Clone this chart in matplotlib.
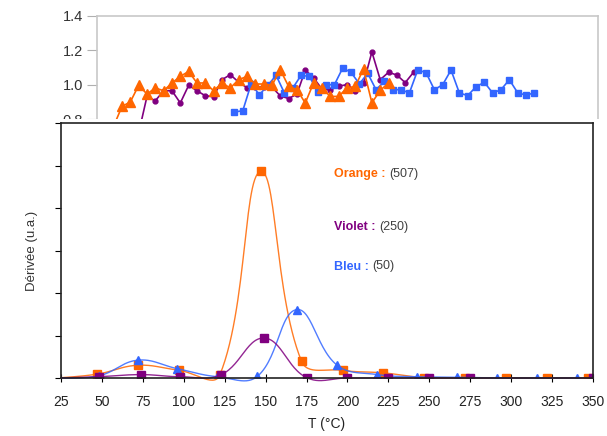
import numpy as np
import matplotlib.pyplot as plt
from matplotlib.patches import Rectangle

plt.rcParams['font.family'] = ['Liberation Sans', 'DejaVu Sans']

# --- top (background) chart: values per step index ---
top_orange_start = 2
top_orange = [0.76, 0.874, 0.900, 0.996, 0.946, 0.981, 0.965, 1.010, 1.048, 1.077,
              1.010, 1.010, 0.965, 1.010, 0.981, 1.029, 1.048, 1.004, 1.004, 0.996,
              1.087, 0.990, 0.971, 0.894, 1.010, 0.981, 0.932, 0.932, 0.981, 0.990,
              1.092, 0.895, 0.967, 1.010]
top_violet_start = 5
top_violet = [0.72, 0.932, 0.907, 0.965, 0.965, 0.894, 0.996, 0.965, 0.936, 0.930,
              1.029, 1.058, 1.015, 0.983, 0.987, 0.987, 0.987, 0.935, 0.920, 0.945,
              1.085, 1.040, 0.975, 0.970, 0.992, 1.000, 0.966, 1.008, 1.190, 1.029,
              1.072, 1.056, 1.012, 1.072]
top_blue_start = 16.5
top_blue = [0.842, 0.849, 1.004, 0.942, 0.996, 1.054, 0.952, 0.981, 1.054, 1.048,
            0.957, 1.000, 1.000, 1.097, 1.071, 1.005, 1.066, 0.971, 1.019, 0.971,
            0.971, 0.952, 1.085, 1.070, 0.971, 1.000, 1.085, 0.952, 0.937, 0.988,
            1.014, 0.952, 0.971, 1.029, 0.953, 0.940, 0.952]
top_yticks = [0.8, 1.0, 1.2, 1.4]

# --- main chart: derivative vs temperature ---
T_orange = [22, 47, 72, 97, 122, 147, 172, 197, 222, 247, 272, 297, 322, 347]
d_orange = [0.0, 0.09, 0.30, 0.18, 0.07, 4.86, 0.39, 0.18, 0.12, 0.01, 0.0, 0.0, 0.0, 0.0]
T_violet = [22, 48, 74, 98, 123, 149, 175, 200, 225, 250, 275, 350]
d_violet = [0.0, 0.03, 0.08, 0.03, 0.08, 0.94, 0.01, 0.0, 0.0, 0.0, 0.0, 0.0]
T_blue = [22, 48, 72, 96, 120.5, 145, 169, 193.4, 218.3, 242.2, 266.7, 291.2, 315.6, 340.1]
d_blue = [0.0, 0.05, 0.42, 0.22, 0.03, 0.04, 1.61, 0.31, 0.08, 0.03, 0.02, 0.0, 0.0, 0.0]
xticks = list(range(25, 351, 25))

c_orange = '#FF6600'
c_violet = '#800080'
c_blue = '#3366FF'


def smooth(x, y, n=30, t=0.4, sx=532 / 325, sy=255 / 6):
    # Excel-style smoothed line: Bezier segments whose control points are
    # scaled by the on-screen length of the neighbouring segments
    P = np.column_stack([np.asarray(x, float) * sx, np.asarray(y, float) * sy])
    N = len(P)
    c_in, c_out = P.copy(), P.copy()
    for i in range(1, N - 1):
        d01 = np.hypot(*(P[i] - P[i - 1]))
        d12 = np.hypot(*(P[i + 1] - P[i]))
        d = P[i + 1] - P[i - 1]
        c_in[i] = P[i] - d * t * d01 / (d01 + d12)
        c_out[i] = P[i] + d * t * d12 / (d01 + d12)
    u = np.linspace(0, 1, n)[:, None]
    segs = []
    for i in range(N - 1):
        segs.append((1 - u) ** 3 * P[i] + 3 * (1 - u) ** 2 * u * c_out[i]
                    + 3 * (1 - u) * u ** 2 * c_in[i + 1] + u ** 3 * P[i + 1])
    S = np.vstack(segs)
    return S[:, 0] / sx, S[:, 1] / sy


fig = plt.figure(figsize=(6.07, 4.36), dpi=100)

# top chart (partly hidden behind the main chart)
ax2 = fig.add_axes([97 / 607, 1 - 153.7 / 436, 501 / 607, 138 / 436], zorder=0)
ax2.plot(top_violet_start + np.arange(len(top_violet)), top_violet, color=c_violet,
         marker='o', markersize=3.5, linewidth=1.2)
ax2.plot(top_blue_start + np.arange(len(top_blue)), top_blue, color=c_blue,
         marker='s', markersize=4.5, linewidth=1.2)
ax2.plot(top_orange_start + np.arange(len(top_orange)), top_orange, color=c_orange,
         marker='^', markersize=6.5, linewidth=1.2)
ax2.set_xlim(0, 501 / 8.33)
ax2.set_ylim(0.6, 1.4)
ax2.set_yticks(top_yticks)
ax2.set_yticklabels([f'{v:.1f}' for v in top_yticks])
ax2.set_xticks([])
ax2.tick_params(axis='y', length=7, color='#b0b0b0', labelsize=10.5,
                labelcolor='#333333', pad=3)
for s in ax2.spines.values():
    s.set_color('#c8c8c8')
    s.set_linewidth(1.2)

# white chart area of the main chart
fig.patches.append(Rectangle((40 / 607, 0), 567 / 607, 1 - 119 / 436,
                             transform=fig.transFigure, facecolor='white',
                             edgecolor='none', zorder=1))

# main chart
ax = fig.add_axes([61 / 607, 1 - 378 / 436, 532 / 607, 255 / 436], zorder=2)
for T, d, c, m in ((T_orange, d_orange, c_orange, 's'),
                   (T_blue, d_blue, c_blue, '^'),
                   (T_violet, d_violet, c_violet, 's')):
    sx, sy = smooth(T, d)
    keep = sx >= 25
    # smoothed line may dip slightly under the axis, as in the original
    ax.plot(sx[keep], sy[keep], color=c, linewidth=1.0, alpha=0.85, clip_on=False)
    ax.plot(T, d, linestyle='none', marker=m, markersize=6, color=c)

ax.set_xlim(25, 350)
ax.set_ylim(0, 6)
ax.set_xticks(xticks)
ax.set_yticks(range(0, 7))
ax.set_yticklabels([])
ax.tick_params(axis='x', direction='inout', length=6, labelsize=10, pad=9,
               labelcolor='#222222')
ax.tick_params(axis='y', direction='out', length=4)
for s in ax.spines.values():
    s.set_color('#222222')
    s.set_linewidth(1.2)
ax.set_xlabel('T (°C)', fontsize=10, color='#222222', labelpad=6)
ax.set_ylabel('Dérivée (u.a.)', fontsize=9.5, color='#333333', labelpad=9)

labels = [('Orange :', '(507)', c_orange, 174),
          ('Violet :', '(250)', c_violet, 226.5),
          ('Bleu :', '(50)', c_blue, 266.5)]
for name, val, c, ypx in labels:
    t = fig.text(334 / 607, 1 - ypx / 436, name + ' ', color=c, fontsize=9,
                 fontweight='bold', va='center', zorder=3)
    fig.canvas.draw()
    bb = t.get_window_extent()
    fig.text(bb.x1 / fig.bbox.width, 1 - ypx / 436, val, color='#404040',
             fontsize=9, va='center', zorder=3)

fig.savefig('out.png', dpi=100)
